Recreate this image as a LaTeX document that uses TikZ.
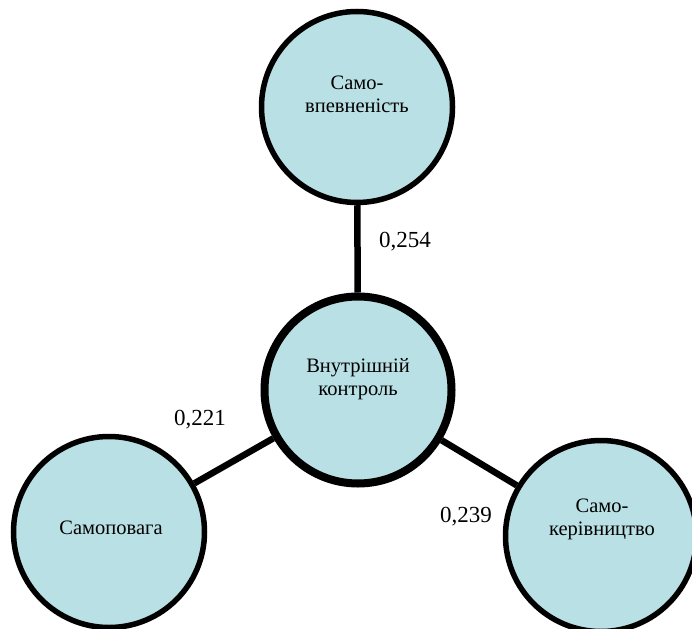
\documentclass[tikz,border=0pt]{standalone}
\usepackage{fontspec}
\setmainfont{Liberation Serif}
\definecolor{bubblefill}{RGB}{185,224,228}
\tikzset{
  bubble/.style={circle, draw=black, fill=bubblefill, line width=5.5pt,
                 minimum size=191pt, inner sep=0pt},
  hub/.style={bubble, line width=8pt, minimum size=187pt},
  link/.style={draw=black, line width=6.5pt},
  txt/.style={align=center, font=\fontsize{20.5}{23}\selectfont, inner sep=0pt},
  coef/.style={font=\fontsize{23}{26}\selectfont, inner sep=0pt}
}
\begin{document}
\begin{tikzpicture}[x=1pt,y=-1pt]
  \useasboundingbox (0,0) rectangle (692,628);
  % circles
  \node[bubble] (conf) at (357,107) {};
  \node[hub]    (ctrl) at (358,390) {};
  \node[bubble] (resp) at (109,532) {};
  \node[bubble] (self) at (601,536) {};
  % connectors
  \draw[link] (ctrl) -- (conf);
  \draw[link] (ctrl) -- (resp);
  \draw[link] (ctrl) -- (self);
  % circle labels
  \node[txt] (confT) at (357,94)  {Само-\\впевненість};
  \node[txt] (ctrlT) at (358,379) {Внутрішній\\контроль};
  \node[txt] (respT) at (111,528) {Самоповага};
  \node[txt] (selfT) at (602,519) {Само-\\керівництво};
  % coefficients
  \node[coef] (c1) at (405,242) {0,254};
  \node[coef] (c2) at (200,420) {0,221};
  \node[coef] (c3) at (466,517) {0,239};
\end{tikzpicture}
\end{document}
